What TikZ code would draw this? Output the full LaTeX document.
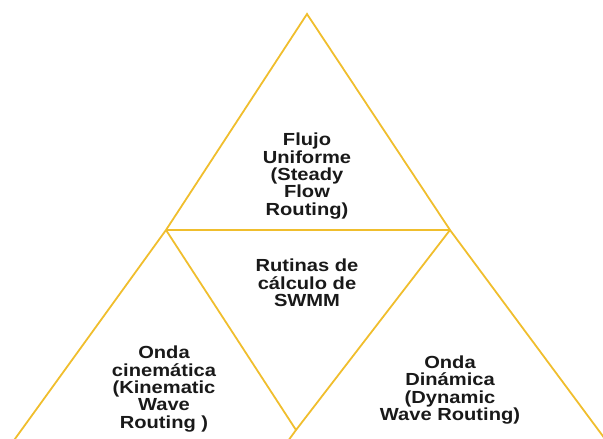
\documentclass[tikz,border=0pt]{standalone}
\usepackage{fontspec}
\setmainfont{Liberation Sans}[FakeStretch=1.15]
\definecolor{gold}{RGB}{240,190,45}
\begin{document}
\begin{tikzpicture}[x=1pt,y=-1pt,
  edge/.style={draw=gold,line width=1.8pt,line join=miter},
  lbl/.style={align=center,font=\fontsize{17.5}{17.3}\selectfont\bfseries,text=black!90,inner sep=0pt}]
\path[use as bounding box] (0,0) rectangle (603,439);
\clip (0,0) rectangle (603,439);
\coordinate (A) at (307,14);
\coordinate (L) at (166,230);
\coordinate (R) at (450,230);
\coordinate (BL) at (12,443);
\coordinate (BR) at (608,443);
\coordinate (V) at (296,430);
\coordinate (VB) at (288,441);
\draw[edge] (BL) -- (L) -- (A) -- (R) -- (BR);
\draw[edge] (L) -- (R);
\draw[edge] (L) -- (V);
\draw[edge] (R) -- (V) -- (VB);
\node[lbl] (top) at (307,176) {Flujo\\Uniforme\\(Steady\\Flow\\Routing)};
\node[lbl] (mid) at (307,283) {Rutinas de\\cálculo de\\SWMM};
\node[lbl] (left) at (164,389) {Onda\\cinemática\\(Kinematic\\Wave\\Routing )};
\node[lbl] (right) at (450,390) {Onda\\Dinámica\\(Dynamic\\Wave Routing)};
\end{tikzpicture}
\end{document}
